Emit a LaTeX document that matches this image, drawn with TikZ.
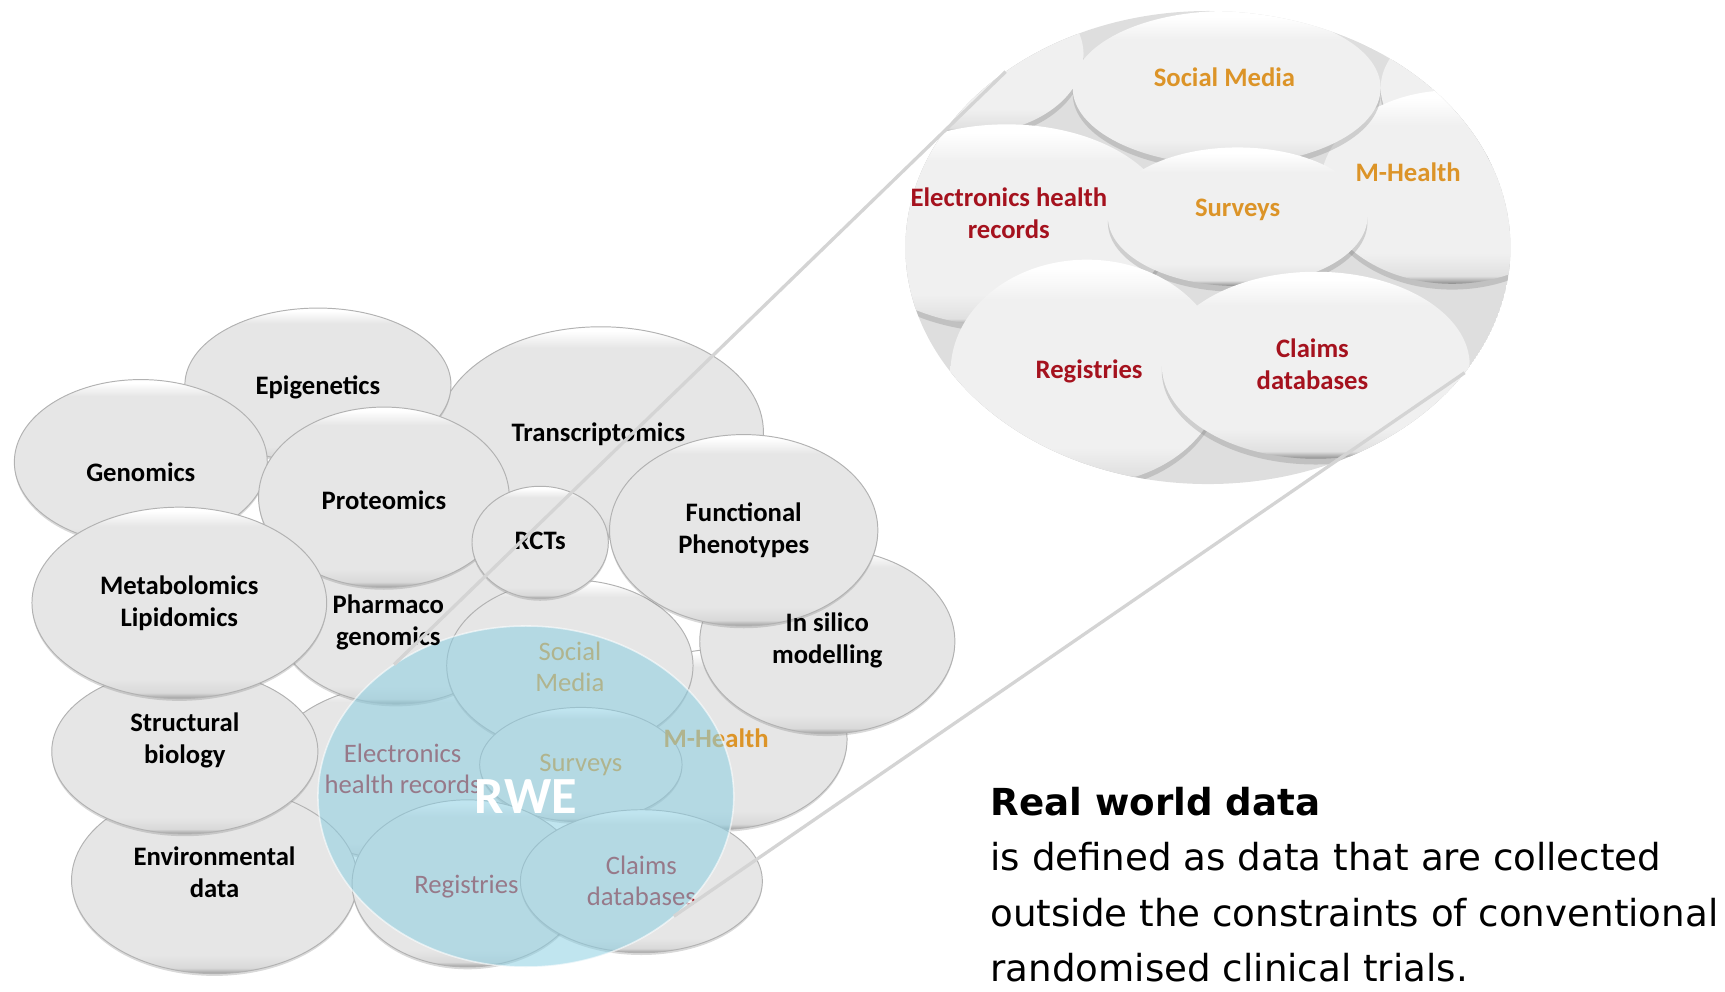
\documentclass[tikz,border=0pt]{standalone}
\usepackage{fontspec}
\setmainfont{Carlito}
\newfontfamily\deffont{DejaVu Sans}
\usetikzlibrary{shapes.geometric, shadows, positioning}
\definecolor{bubbleGray}{HTML}{E6E6E6}
\definecolor{lensGray}{HTML}{F0F0F0}
\definecolor{rweBlue}{HTML}{8CCFE2}
\definecolor{txtOrange}{HTML}{DC9428}
\definecolor{txtRed}{HTML}{A5121E}
\definecolor{lineGray}{HTML}{D4D4D4}
\pgfdeclareverticalshading{bubbleshade}{100bp}{color(0bp)=(black!38); color(25bp)=(black!38); color(26.5bp)=(black!15); color(30bp)=(bubbleGray); color(70bp)=(bubbleGray); color(74bp)=(white); color(100bp)=(white)}
\pgfdeclareverticalshading{lensshade}{100bp}{color(0bp)=(black!45); color(25bp)=(black!45); color(27bp)=(black!12); color(33bp)=(lensGray); color(66bp)=(lensGray); color(73bp)=(white); color(100bp)=(white)}
\tikzset{
  bubble/.style={ellipse, inner sep=0, outer sep=0, shading=bubbleshade, draw=black!30, line width=0.5pt,
    drop shadow={shadow xshift=0pt, shadow yshift=-1.2pt, opacity=.3}},
  lensbubble/.style={ellipse, inner sep=0, outer sep=0, shading=lensshade,
    drop shadow={shadow xshift=0pt, shadow yshift=-3pt, opacity=.3}},
  lbl/.style={font=\bfseries\fontsize{13.8}{16.5}\selectfont, align=center, inner sep=0},
  rwelbl/.style={font=\fontsize{13.8}{16}\selectfont, align=center, inner sep=0},
  rwe/.style={ellipse, inner sep=0, outer sep=0, fill=rweBlue, fill opacity=.55, draw=white, draw opacity=.6,
    line width=0.8pt, text=white, text opacity=1, font=\bfseries\fontsize{27}{30}\selectfont},
  link/.style={draw=lineGray, line width=1.7pt},
  deftext/.style={font=\deffont\fontsize{19.25}{28.7}\selectfont, align=left, inner sep=0}
}
\begin{document}
\begin{tikzpicture}[x=0.02cm, y=0.02cm]
    \useasboundingbox (0,0) rectangle (1568,-901);
    \foreach \n/\x/\y/\a/\b in
    {cTranscriptomics/546/393/148/96,
        cEpigenetics/289/350/121/70,
        cGenomics/128/420/115/75,
        cMHealth/655/672/115/82,
        cInSilico/752/583/116/84,
        cEhr/368/702/125/80,
        cPharmaco/360/560/110/80,
        cEnvironmental/195/800/130/85,
        cStructural/168/683/121/75,
        cProteomics/349/452/114/82,
        cMetabolomics/163/548/134/87,
        cSocialMedia/518/605/112/78,
        cSurveys/528/695/92/52,
        cRegistries/425/803/105/76,
        cClaims/583/801/110/65,
        cRcts/491/493/62/51,
        cFunctional/676/482/122/87}
    {
        \node[bubble, minimum width=\a*0.04cm, minimum height=\b*0.04cm] (\n) at (\x,-\y) {};
    };
    \foreach \n/\x/\y/\c/\t in
    {tSocialMedia/518/606/txtOrange/{Social\\Media},
        tSurveys/528/695/txtOrange/Surveys,
        tEhr/366/699/txtRed/{Electronics\\health records},
        tRegistries/424/806/txtRed/Registries,
        tClaims/583/801/txtRed/{Claims\\databases}}
    {
        \node[rwelbl, text=\c] (\n) at (\x,-\y) {\t};
    };
    \node[lbl, text=txtOrange] (tMHealth) at (651,-671) {M-Health};
    \node[rwe, minimum width=378*0.02cm, minimum height=310*0.02cm] (cRwe) at (478,-724) {RWE};
    \foreach \n/\x/\y/\t in
    {tEpigenetics/289/352/Epigenetics,
        tGenomics/128/429/Genomics,
        tTranscriptomics/544/395/Transcriptomics,
        tProteomics/349/455/Proteomics,
        tRcts/491/492/RCTs,
        tFunctional/676/482/{Functional\\Phenotypes},
        tMetabolomics/163/548/{Metabolomics\\Lipidomics},
        tPharmaco/353/566/{Pharmaco\\genomics},
        tInSilico/752/582/{In silico\\modelling},
        tStructural/168/673/{Structural\\biology},
        tEnvironmental/195/793/{Environmental\\data}}
    {
        \node[lbl] (\n) at (\x,-\y) {\t};
    };
    \begin{scope}
        \path[clip] (1098,-225) ellipse [x radius=275, y radius=215];
        \fill[black!13] (1098,-225) ellipse [x radius=275, y radius=215];
        \foreach \n/\x/\y/\a/\b in
        {lTopLeft/880/50/105/72,
            lTopRight/1350/80/95/65,
            lMHealth/1320/170/120/88,
            lEhr/915/205/150/92,
            lSocialMedia/1115/80/140/70,
            lSurveys/1125/197/118/63,
            lRegistries/988/338/124/102,
            lClaims/1196/332/140/85}
        {
            \node[lensbubble, minimum width=\a*0.04cm, minimum height=\b*0.04cm] (\n) at (\x,-\y) {};
        };
    \end{scope}
    \foreach \n/\x/\y/\c/\t in
    {uSocialMedia/1113/70/txtOrange/{Social Media},
        uMHealth/1280/157/txtOrange/M-Health,
        uSurveys/1125/191/txtOrange/Surveys,
        uEhr/917/194/txtRed/{Electronics health\\records},
        uRegistries/990/338/txtRed/Registries,
        uClaims/1193/331/txtRed/{Claims\\databases}}
    {
        \node[lbl, text=\c] (\n) at (\x,-\y) {\t};
    };
    \node[ellipse, inner sep=0, outer sep=0, minimum width=550*0.02cm, minimum height=430*0.02cm] (cLens) at (1098,-225) {};
    \draw[link] (cRwe.135.7) -- (cLens.139.3);
    \draw[link] (cRwe.-39.3) -- (cLens.-26);
    \node[deftext, anchor=north west] (tDefinition) at (900,-715)
    {{\bfseries Real world data}\\
        is defined as data that are collected\\
        outside the constraints of conventional\\
        randomised clinical trials.};
\end{tikzpicture}
\end{document}
